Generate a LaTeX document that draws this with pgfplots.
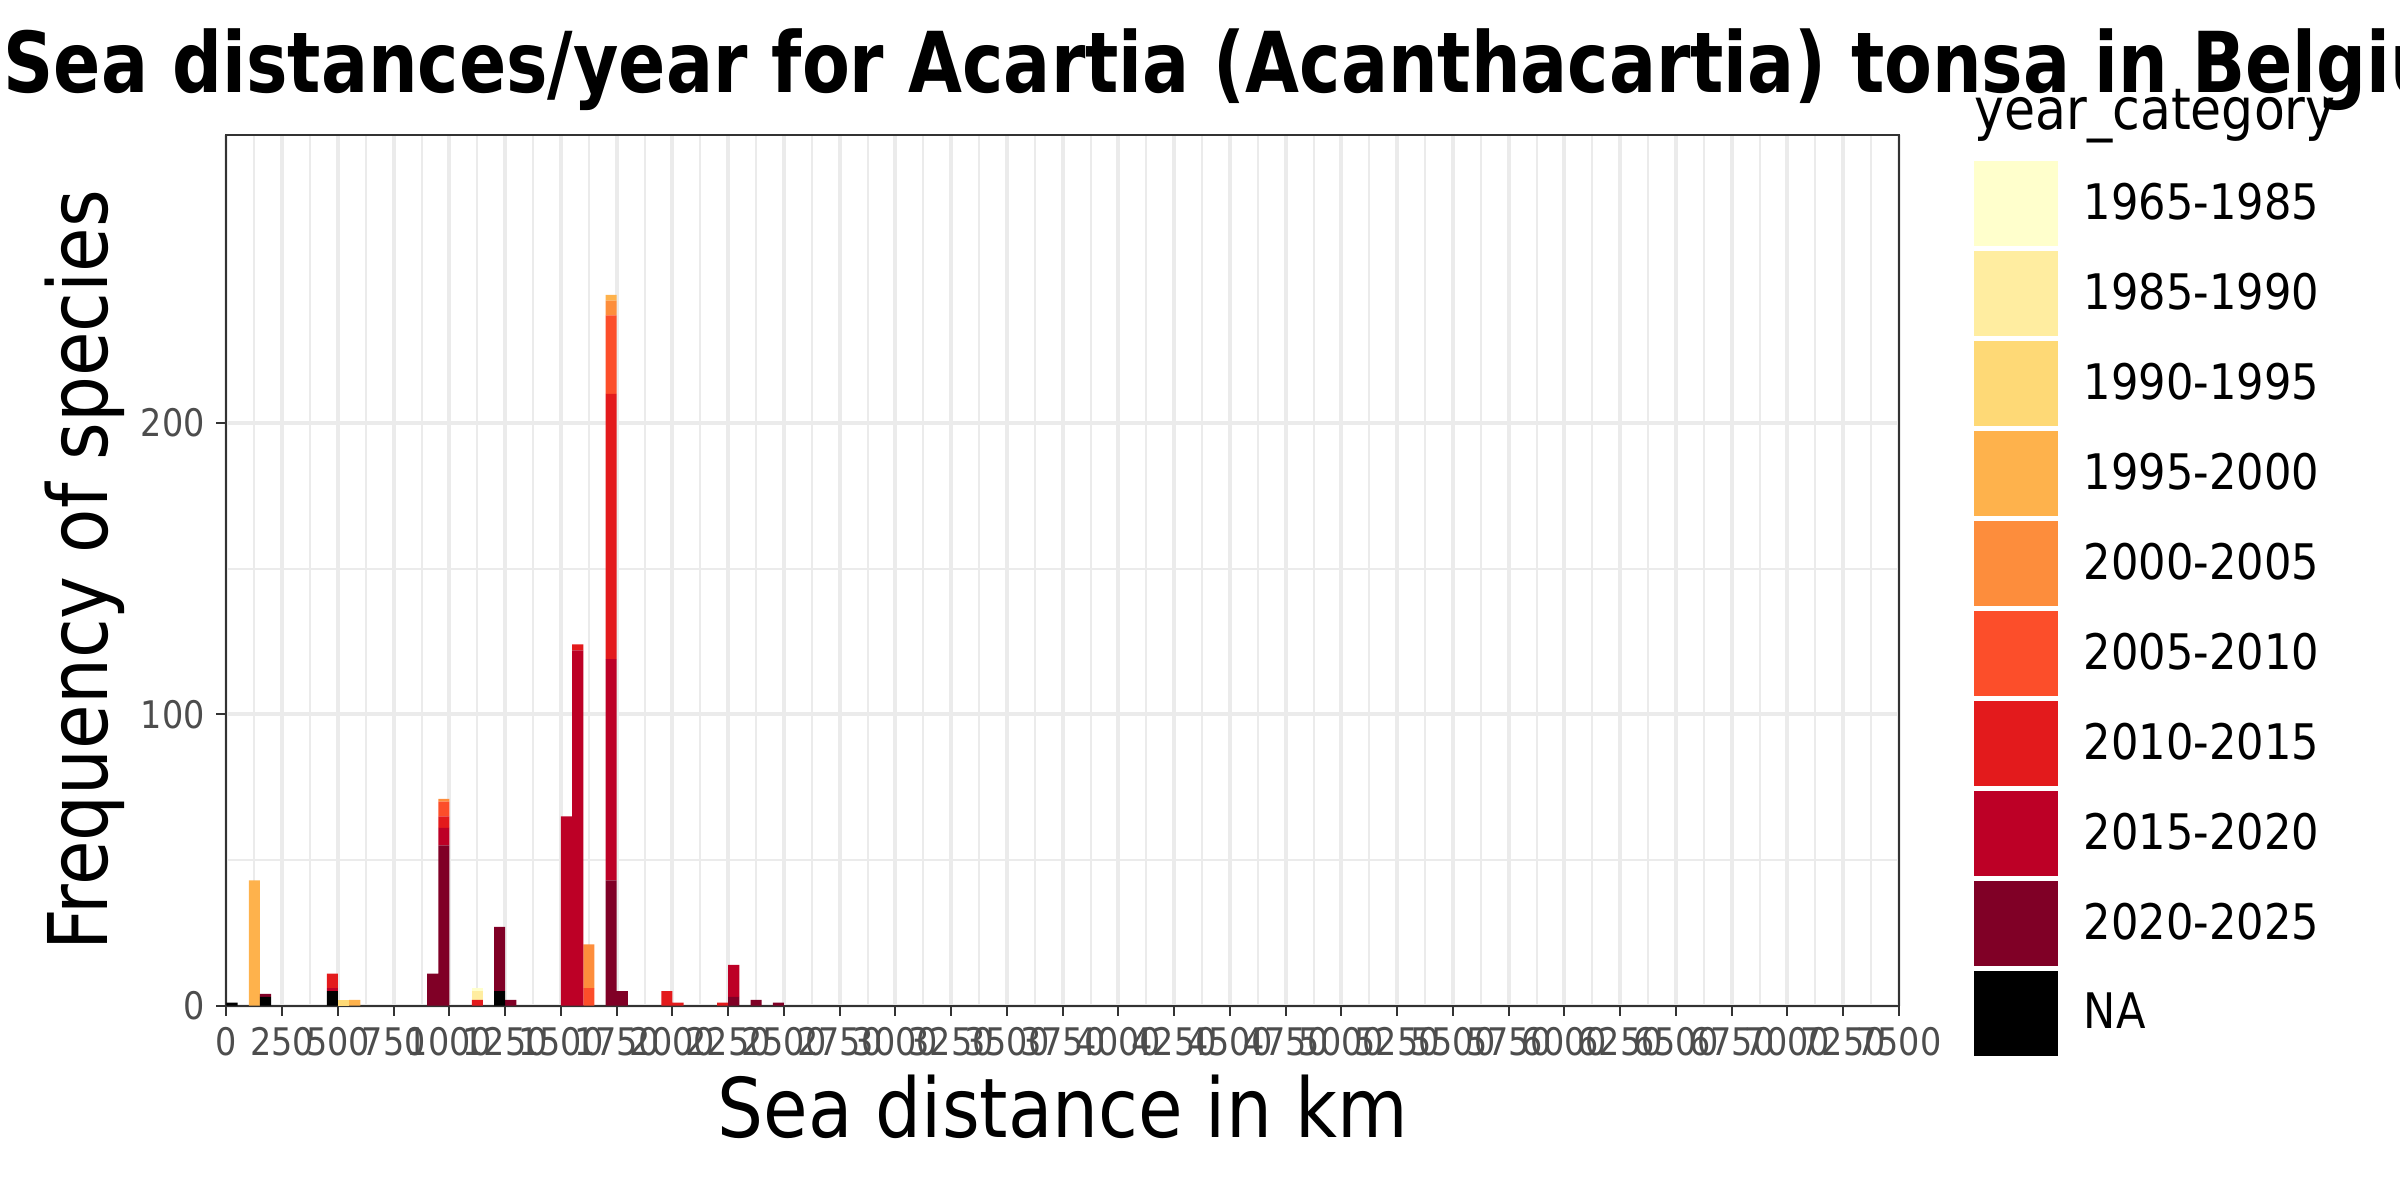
\documentclass[border=0pt]{standalone}
\usepackage{pgfplots}
\pgfplotsset{compat=1.18}
\usepackage{pgfplotstable}
\usepackage{fontspec}
\setmainfont{DejaVu Sans}[FakeStretch=0.88]
\newfontfamily\titlefont{DejaVu Sans}[FakeStretch=0.83]
\definecolor{cA}{HTML}{FFFFCC}
\definecolor{cB}{HTML}{FFEDA0}
\definecolor{cC}{HTML}{FED976}
\definecolor{cD}{HTML}{FEB24C}
\definecolor{cE}{HTML}{FD8D3C}
\definecolor{cF}{HTML}{FC4E2A}
\definecolor{cG}{HTML}{E31A1C}
\definecolor{cH}{HTML}{BD0026}
\definecolor{cI}{HTML}{800026}
\definecolor{cNA}{HTML}{000000}
\definecolor{gridc}{HTML}{EBEBEB}
\definecolor{axc}{HTML}{333333}
\definecolor{tickc}{HTML}{4D4D4D}
\pgfplotstableread{
x    NA c2020 c2015 c2010 c2005 c2000 c1995 c1990 c1985 c1965
25   1  0     0     0     0     0     0     0     0     0
125  0  0     0     0     0     0     43    0     0     0
175  3  1     0     0     0     0     0     0     0     0
475  5  0     1     5     0     0     0     0     0     0
525  0  0     0     0     0     0     0     2     0     0
575  0  0     0     0     0     0     2     0     0     0
925  0  11    0     0     0     0     0     0     0     0
975  0  55    6     4     5     1     0     0     0     0
1125 0  0     0     2     0     0     0     0     3     1
1225 5  22    0     0     0     0     0     0     0     0
1275 0  2     0     0     0     0     0     0     0     0
1525 0  0     65    0     0     0     0     0     0     0
1575 0  0     122   2     0     0     0     0     0     0
1625 0  0     0     0     6     15    0     0     0     0
1725 0  43    76    91    27    5     2     0     0     0
1775 0  5     0     0     0     0     0     0     0     0
1975 0  0     0     5     0     0     0     0     0     0
2025 0  0     0     1     0     0     0     0     0     0
2225 0  0     0     1     0     0     0     0     0     0
2275 0  3     11    0     0     0     0     0     0     0
2375 0  2     0     0     0     0     0     0     0     0
2475 0  1     0     0     0     0     0     0     0     0
}\datatable
\begin{document}
\begin{tikzpicture}
\useasboundingbox (0,0) rectangle (720pt,-360pt);
\begin{axis}[
  at={(67.95pt,-301.68pt)}, anchor=south west,
  scale only axis, width=501.75pt, height=261.27pt,
  xmin=0, xmax=7500, ymin=0, ymax=299,
  enlargelimits=false,
  ybar stacked, bar width=50,
  xtick distance=250, ytick={0,100,200},
  minor x tick num=1, minor y tick num=1,
  minor tick length=0pt,
  grid=both,
  major grid style={gridc, line width=1.2pt},
  minor grid style={gridc, line width=0.6pt},
  axis line style={axc, line width=0.6pt},
  tick align=outside, major tick length=3pt,
  tick style={axc, line width=0.6pt},
  xtick pos=bottom, ytick pos=left,
  /pgf/number format/assume math mode=true,
  /pgf/number format/1000 sep={},
  scaled ticks=false,
  xticklabel style={font=\fontsize{11.4}{13}\selectfont, text=tickc},
  yticklabel style={font=\fontsize{11.4}{13}\selectfont, text=tickc},
  xlabel={Sea distance in km}, ylabel={Frequency of species},
  every axis x label/.style={at={(axis description cs:0.5,-0.1509)}, anchor=base, font=\fontsize{24.7}{28}\selectfont},
  every axis y label/.style={at={(axis description cs:-0.0711,0.5)}, anchor=base, rotate=90, font=\fontsize{24.7}{28}\selectfont},
  legend image code/.code={\fill[#1] (0pt,-12.75pt) rectangle (25.2pt,12.75pt);},
  reverse legend,
  legend style={at={(axis description cs:1.0448,0.9698)}, anchor=north west,
    draw=none, fill=none, inner sep=0pt, outer sep=0pt, row sep=1.5pt,
    font=\fontsize{14.7}{16}\selectfont,
    nodes={inner sep=0pt, anchor=west},
    /tikz/every odd column/.append style={column sep=7.8pt}},
]
\addplot[fill=cNA, draw=none] table[x=x,y=NA]{\datatable}; \addlegendentry{NA}
\addplot[fill=cI, draw=none] table[x=x,y=c2020]{\datatable}; \addlegendentry{2020-2025}
\addplot[fill=cH, draw=none] table[x=x,y=c2015]{\datatable}; \addlegendentry{2015-2020}
\addplot[fill=cG, draw=none] table[x=x,y=c2010]{\datatable}; \addlegendentry{2010-2015}
\addplot[fill=cF, draw=none] table[x=x,y=c2005]{\datatable}; \addlegendentry{2005-2010}
\addplot[fill=cE, draw=none] table[x=x,y=c2000]{\datatable}; \addlegendentry{2000-2005}
\addplot[fill=cD, draw=none] table[x=x,y=c1995]{\datatable}; \addlegendentry{1995-2000}
\addplot[fill=cC, draw=none] table[x=x,y=c1990]{\datatable}; \addlegendentry{1990-1995}
\addplot[fill=cB, draw=none] table[x=x,y=c1985]{\datatable}; \addlegendentry{1985-1990}
\addplot[fill=cA, draw=none] table[x=x,y=c1965]{\datatable}; \addlegendentry{1965-1985}
\end{axis}
\node[anchor=base west, inner sep=0pt, font=\titlefont\fontsize{25.2}{28}\selectfont\bfseries] at (0.9pt,-27.8pt) {Sea distances/year for Acartia (Acanthacartia) tonsa in Belgium};
\node[anchor=base west, inner sep=0pt, font=\fontsize{17.2}{19}\selectfont] at (592.2pt,-38.7pt) {year\_category};
\end{tikzpicture}
\end{document}
